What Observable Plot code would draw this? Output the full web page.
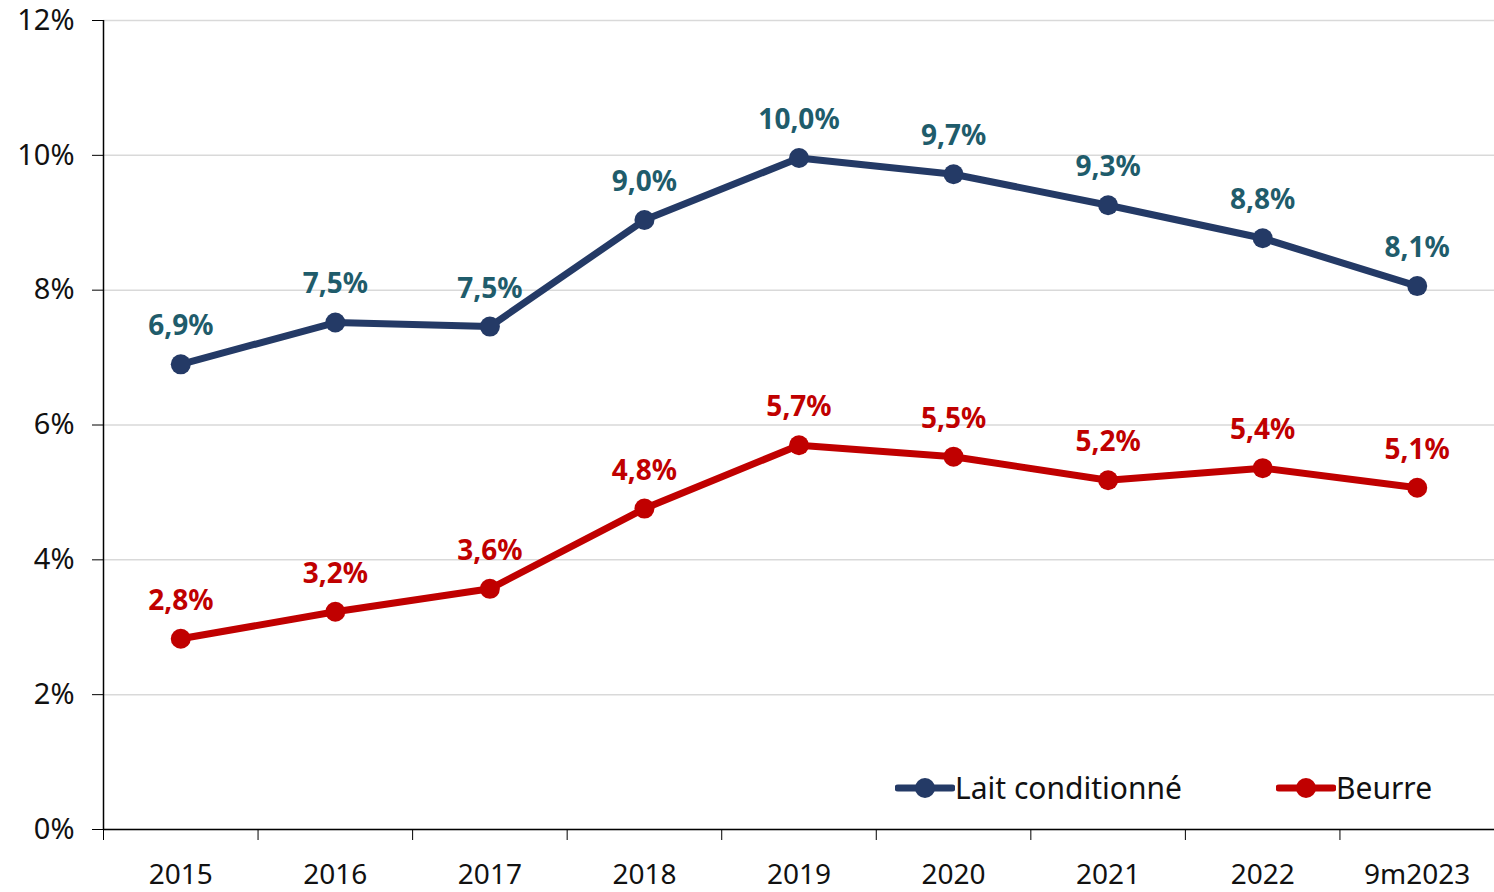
<!DOCTYPE html>
<html><head><meta charset="utf-8">
<script src="https://cdn.jsdelivr.net/npm/d3@7"></script>
<script src="https://cdn.jsdelivr.net/npm/@observablehq/plot@0.6"></script>
<style>
html,body{margin:0;padding:0;background:#fff;}
#wrap{position:relative;width:1494px;height:892px;font-family:"Noto Sans",sans-serif;}
.leg{position:absolute;top:768px;display:flex;align-items:center;font-size:30px;color:#111;line-height:40px;}
.leg svg{margin-right:0px;}
</style>
</head><body>
<div id="wrap"></div>
<script>
const categories = ["2015","2016","2017","2018","2019","2020","2021","2022","9m2023"];
const lait = [6.9, 7.52, 7.46, 9.04, 9.96, 9.72, 9.26, 8.77, 8.06];
const beurre = [2.83, 3.23, 3.57, 4.76, 5.70, 5.53, 5.18, 5.36, 5.07];
const yTicks = [0, 2, 4, 6, 8, 10, 12];
const seriesNames = ["Lait conditionné", "Beurre"];

const lineColors = {"Lait conditionné": "#243a66", "Beurre": "#c00000"};
const labelColors = {"Lait conditionné": "#1f5c6b", "Beurre": "#c00000"};

const rows = [];
categories.forEach((c, i) => {
  rows.push({i, cat: c, series: seriesNames[0], v: lait[i]});
  rows.push({i, cat: c, series: seriesNames[1], v: beurre[i]});
});
const fmt = v => d3.format(".1f")(v).replace(".", ",") + "%";
const idx = categories.map((_, i) => i);
const bounds = d3.range(categories.length + 1).map(i => i - 0.5);

const chart = Plot.plot({
  width: 1494,
  height: 892,
  marginLeft: 103,
  marginRight: 0,
  marginTop: 20,
  marginBottom: 63,
  style: {fontFamily: "'Noto Sans', sans-serif", background: "#fff"},
  x: {type: "linear", domain: [-0.5, categories.length - 0.5]},
  y: {domain: [0, 12]},
  marks: [
    Plot.gridY(yTicks, {stroke: "#d9d9d9", strokeOpacity: 1, strokeWidth: 1.5}),
    Plot.axisY({ticks: yTicks, tickSize: 11, tickPadding: 18, tickFormat: d => d + "%", fontSize: 29, stroke: "#000", color: "#111", label: null}),
    Plot.axisX({ticks: bounds, tickSize: 11, tickFormat: () => "", stroke: "#000", label: null}),
    Plot.axisX({ticks: idx, tickSize: 0, tickPadding: 35, tickFormat: i => categories[i], fontSize: 28, color: "#111", label: null}),
    Plot.ruleY([0], {stroke: "#000", strokeWidth: 1.5}),
    Plot.ruleX([-0.5], {stroke: "#000", strokeWidth: 1.5}),
    Plot.line(rows, {x: "i", y: "v", z: "series", stroke: d => lineColors[d.series], strokeWidth: 7, strokeLinejoin: "round"}),
    Plot.dot(rows, {x: "i", y: "v", fill: d => lineColors[d.series], r: 10, stroke: "none"}),
    Plot.text(rows, {x: "i", y: "v", text: d => fmt(d.v), dy: -38, fill: d => labelColors[d.series], fontSize: 28, fontWeight: "bold"})
  ]
});
const wrap = document.getElementById("wrap");
wrap.appendChild(chart);

function legendItem(name, left) {
  const div = document.createElement("div");
  div.className = "leg";
  div.style.left = left + "px";
  const c = lineColors[name];
  div.innerHTML = `<svg width="60" height="40"><line x1="3" y1="20" x2="57" y2="20" stroke="${c}" stroke-width="7" stroke-linecap="round"/><circle cx="30" cy="20" r="10" fill="${c}"/></svg><span>${name}</span>`;
  wrap.appendChild(div);
}
legendItem(seriesNames[0], 895);
legendItem(seriesNames[1], 1276);
</script>
</body></html>
